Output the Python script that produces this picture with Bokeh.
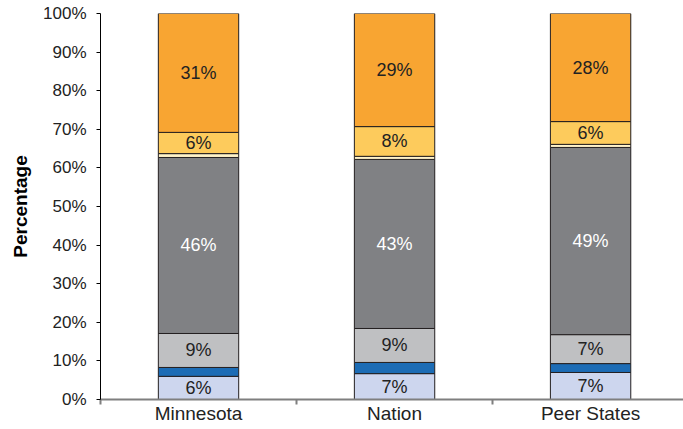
import numpy as np
from bokeh.plotting import figure
from bokeh.models import Range1d, FixedTicker, ColumnDataSource
from bokeh.core.properties import value
from bokeh.embed import file_html
from bokeh.resources import INLINE

# ---- data ----
categories = ["Minnesota", "Nation", "Peer States"]
segment_names = ["s1", "s2", "s3", "s4", "s5", "s6", "s7"]
minnesota = [6.0, 2.3, 8.8, 45.6, 1.0, 5.5, 30.8]
nation = [6.7, 2.9, 8.8, 43.8, 0.8, 7.7, 29.3]
peer_states = [7.0, 2.3, 7.5, 48.5, 0.8, 5.9, 28.0]
minnesota_labels = ["6%", "", "9%", "46%", "", "6%", "31%"]
nation_labels = ["7%", "", "9%", "43%", "", "8%", "29%"]
peer_labels = ["7%", "", "7%", "49%", "", "6%", "28%"]
y_ticks = [0, 10, 20, 30, 40, 50, 60, 70, 80, 90, 100]

colors = ["#CDD6EE", "#1C6CB5", "#BFC0C2", "#808184", "#FFF3C8", "#FDCB5C", "#F8A532"]
label_colors = ["#222222", "#222222", "#222222", "#FFFFFF", "#222222", "#222222", "#222222"]

FONT = "Liberation Sans"

series = [minnesota, nation, peer_states]
series_labels = [minnesota_labels, nation_labels, peer_labels]

p = figure(width=683, height=429, output_backend="svg", toolbar_location=None,
           x_range=Range1d(0, 2.974), y_range=Range1d(0, 100),
           min_border_left=100, min_border_right=0, min_border_top=13, min_border_bottom=30)
p.outline_line_color = None
p.xgrid.visible = False
p.ygrid.visible = False
p.background_fill_color = "white"

xs, bottoms, tops, fills, lx, ly, lt, lc = [], [], [], [], [], [], [], []
for i, (vals, labs) in enumerate(zip(series, series_labels)):
    cum = np.concatenate([[0], np.cumsum(vals)])
    for j, v in enumerate(vals):
        xs.append(i + 0.5)
        bottoms.append(cum[j])
        tops.append(cum[j + 1])
        fills.append(colors[j])
        if labs[j]:
            lx.append(i + 0.5)
            ly.append((cum[j] + cum[j + 1]) / 2)
            lt.append(labs[j])
            lc.append(label_colors[j])

bars = ColumnDataSource(dict(x=xs, bottom=bottoms, top=tops, color=fills))
p.vbar(x="x", bottom="bottom", top="top", width=0.41, source=bars,
       fill_color="color", line_color="#231F20", line_width=1)

labels = ColumnDataSource(dict(x=lx, y=ly, text=lt, color=lc))
p.text(x="x", y="y", text="text", source=labels, text_color="color",
       text_align="center", text_baseline="middle",
       text_font=value(FONT), text_font_size="18px")

# y axis
ya = p.yaxis[0]
ya.ticker = FixedTicker(ticks=y_ticks)
ya.major_label_overrides = {t: f"{t}%" for t in y_ticks}
ya.minor_tick_line_color = None
ya.major_tick_in = 0
ya.major_tick_out = 4
ya.axis_line_color = "black"
ya.major_tick_line_color = "black"
ya.major_label_text_font = FONT
ya.major_label_text_font_size = "17px"
ya.major_label_text_color = "#222222"
ya.major_label_standoff = 10
ya.axis_label = "Percentage"
ya.axis_label_text_font = FONT
ya.axis_label_text_font_style = "bold"
ya.axis_label_text_font_size = "19px"
ya.axis_label_text_color = "black"
ya.axis_label_standoff = 9

# x axis
xa = p.xaxis[0]
xa.ticker = FixedTicker(ticks=[0.5, 1.5, 2.5], minor_ticks=[0, 1, 2, 3])
xa.major_label_overrides = {0.5: categories[0], 1.5: categories[1], 2.5: categories[2]}
xa.major_tick_in = 0
xa.major_tick_out = 0
xa.minor_tick_in = 0
xa.minor_tick_out = 5
xa.axis_line_color = "#7F7F7F"
xa.axis_line_width = 2
xa.minor_tick_line_color = "#7F7F7F"
xa.minor_tick_line_width = 2
xa.major_label_text_font = FONT
xa.major_label_text_font_size = "19px"
xa.major_label_text_color = "#222222"
xa.major_label_standoff = -2

open("out.html", "w").write(file_html(p, INLINE))
